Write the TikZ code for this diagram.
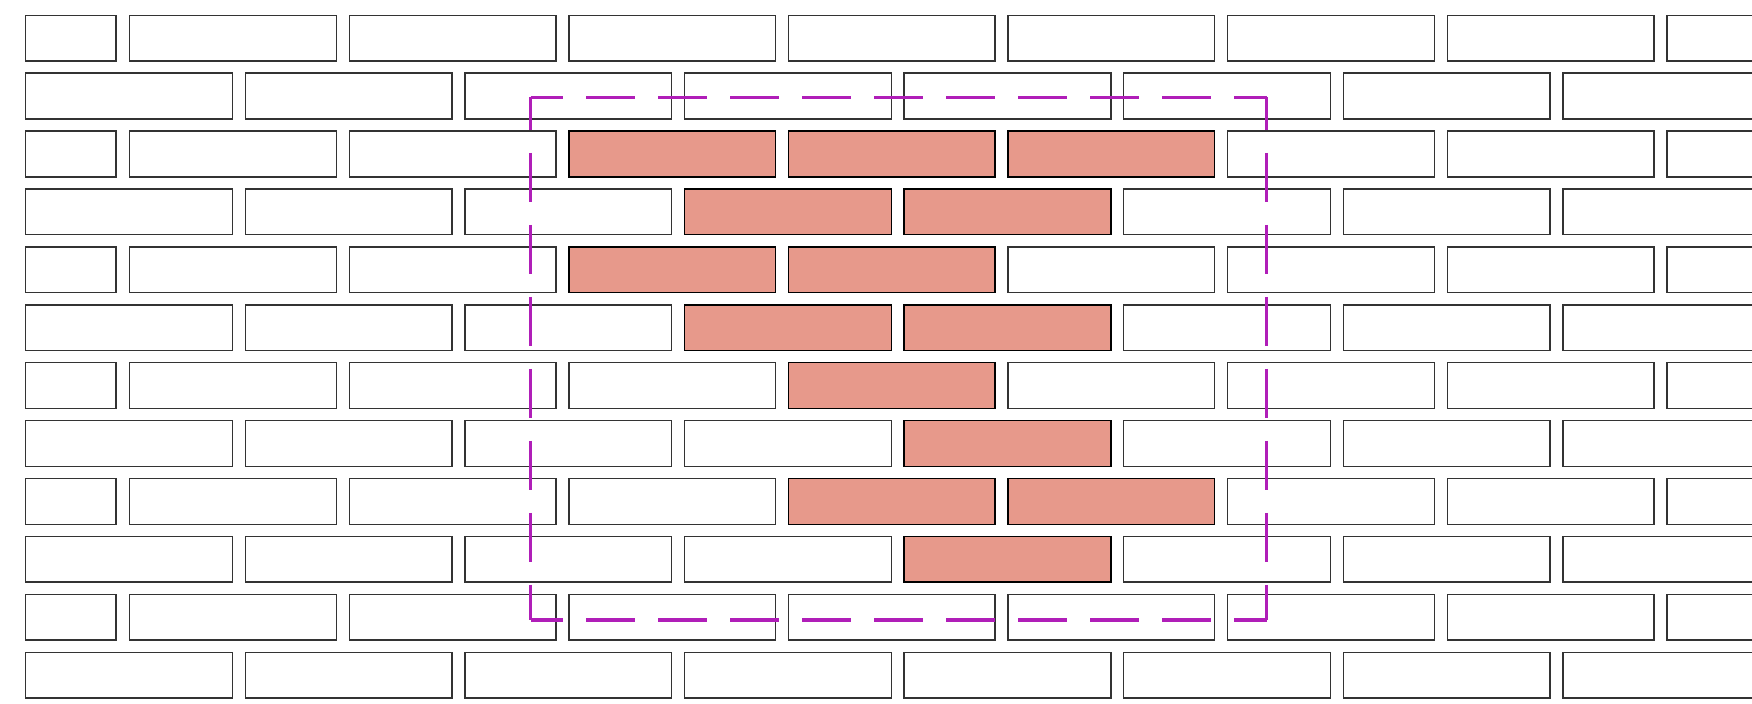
\documentclass[tikz,border=0pt]{standalone}
\definecolor{hotbrick}{RGB}{231,153,139}
\definecolor{framepurple}{RGB}{176,30,184}
\begin{document}
\begin{tikzpicture}[
        x=0.01cm, y=-0.01cm,
        % Kiểu dáng chung
        brick/.style={draw=black!80, line width=0.4pt, fill=white},
        hot/.style={draw=black, line width=0.4pt, fill=hotbrick},
        frame/.style={draw=framepurple, line width=1pt,
            dash pattern=on 13.94pt off 6.54pt, dash phase=4.7pt}
    ]
        \useasboundingbox (0,0) rectangle (1752,703);
        \clip (0,0) rectangle (1752,703);

        % Hàng có nửa viên gạch ở đầu
        \foreach \r in {0,2,...,10} {
            \draw[brick] (25.7,15.3+\r*57.9) rectangle ++(90.5,45.7);
            \foreach \k in {0,...,7}
                \draw[brick] (129.6+\k*219.6,15.3+\r*57.9) rectangle ++(206.7,45.7);
        }
        % Hàng gạch nguyên
        \foreach \r in {1,3,...,11}
            \foreach \k in {0,...,7}
                \draw[brick] (25.7+\k*219.6,15.3+\r*57.9) rectangle ++(206.7,45.7);

        % Các viên gạch được tô màu
        \foreach \r/\k in {2/2,2/3,2/4,4/2,4/3,6/3,8/3,8/4}
            \draw[hot] (129.6+\k*219.6,15.3+\r*57.9) rectangle ++(206.7,45.7);
        \foreach \r/\k in {3/3,3/4,5/3,5/4,7/4,9/4}
            \draw[hot] (25.7+\k*219.6,15.3+\r*57.9) rectangle ++(206.7,45.7);

        % Khung nét đứt
        \coordinate (tl) at (530.7,97.3);
        \coordinate (tr) at (1266.5,97.3);
        \coordinate (bl) at (530.7,620);
        \coordinate (br) at (1266.5,620);
        \draw[frame] (tl) -- (tr);
        \draw[frame] (tl) -- (bl);
        \draw[frame] (bl) -- (br);
        \draw[frame] (tr) -- (br);

    \end{tikzpicture}
\end{document}
